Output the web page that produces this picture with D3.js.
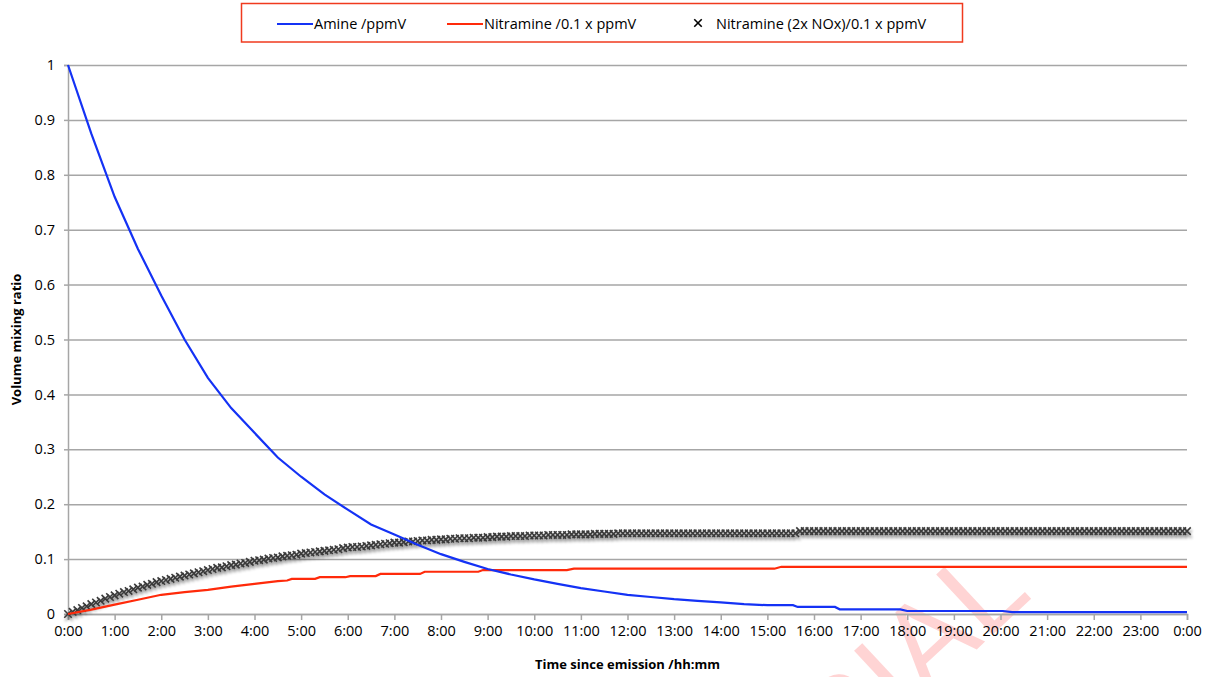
<!DOCTYPE html>
<html>
<head>
<meta charset="utf-8">
<script src="https://cdn.jsdelivr.net/npm/d3@7"></script>
<style>
  html, body { margin: 0; padding: 0; background: #ffffff; }
  svg { display: block; font-family: "Open Sans", "Liberation Sans", sans-serif; }
</style>
</head>
<body>
<svg id="chart" width="1210" height="677"></svg>
<script>
// ---------------- data ----------------
const seriesNames = ["Amine /ppmV", "Nitramine /0.1 x ppmV", "Nitramine (2x NOx)/0.1 x ppmV"];

// Amine /ppmV  (time in hours since emission)
const amineTime  = [0, 0.5, 1, 1.5, 2, 2.5, 3, 3.5, 4, 4.5, 5, 5.5, 6, 6.5, 7, 7.5, 8, 8.5, 9, 9.5,
                    10, 10.5, 11, 11.5, 12, 12.5, 13, 13.5, 14, 14.5, 15, 15.55, 15.65, 16.45, 16.55,
                    17.85, 18.0, 20.05, 20.25, 24];
const amineValue = [1.000, 0.875, 0.760, 0.665, 0.580, 0.500, 0.430, 0.375, 0.330, 0.285, 0.250, 0.218,
                    0.190, 0.163, 0.145, 0.126, 0.109, 0.095, 0.082, 0.072, 0.063, 0.055, 0.047, 0.041,
                    0.035, 0.031, 0.027, 0.024, 0.021, 0.018, 0.016, 0.016, 0.0128, 0.0128, 0.0085,
                    0.0085, 0.0055, 0.0055, 0.0035, 0.0035];

// Nitramine /0.1 x ppmV
const nitrTime  = [0, 0.5, 1, 1.5, 2, 2.5, 3, 3.5, 4, 4.5, 4.7, 4.8, 5.3, 5.4, 5.95, 6.05, 6.6, 6.7,
                   7.55, 7.65, 8.8, 8.9, 10.7, 10.85, 15.15, 15.3, 24];
const nitrValue = [0, 0.008, 0.017, 0.026, 0.035, 0.040, 0.044, 0.050, 0.055, 0.060, 0.061, 0.064, 0.064,
                   0.067, 0.067, 0.069, 0.069, 0.073, 0.073, 0.077, 0.077, 0.080, 0.080, 0.0825, 0.0825,
                   0.086, 0.086];

// Nitramine (2x NOx)/0.1 x ppmV  - one marker every 6 minutes (0:00 .. 24:00)
const nox2Step = 0.1; // hours between markers
const nox2Value = [
  0.000, 0.004, 0.007, 0.011, 0.014, 0.018, 0.021, 0.024, 0.028, 0.031,
  0.034, 0.037, 0.040, 0.042, 0.045, 0.048, 0.050, 0.053, 0.055, 0.058,
  0.060, 0.062, 0.064, 0.066, 0.068, 0.070, 0.072, 0.074, 0.076, 0.078,
  0.080, 0.082, 0.084, 0.085, 0.087, 0.089, 0.090, 0.092, 0.093, 0.095,
  0.097, 0.098, 0.099, 0.101, 0.102, 0.103, 0.105, 0.106, 0.107, 0.108,
  0.110, 0.111, 0.112, 0.113, 0.114, 0.115, 0.116, 0.117, 0.118, 0.120,
  0.121, 0.122, 0.122, 0.123, 0.124, 0.125, 0.126, 0.127, 0.128, 0.129,
  0.130, 0.130, 0.131, 0.132, 0.132, 0.133, 0.134, 0.134, 0.135, 0.135,
  0.136, 0.136, 0.137, 0.137, 0.138, 0.138, 0.138, 0.139, 0.139, 0.139,
  0.140, 0.140, 0.141, 0.141, 0.141, 0.142, 0.142, 0.142, 0.142, 0.143,
  0.143, 0.143, 0.143, 0.144, 0.144, 0.144, 0.144, 0.144, 0.145, 0.145,
  0.145, 0.145, 0.145, 0.146, 0.146, 0.146, 0.146, 0.146, 0.147, 0.147,
  0.147, 0.147, 0.147, 0.147, 0.147, 0.147, 0.147, 0.147, 0.147, 0.147,
  0.147, 0.147, 0.147, 0.147, 0.147, 0.147, 0.147, 0.147, 0.147, 0.147,
  0.147, 0.147, 0.147, 0.147, 0.147, 0.147, 0.147, 0.147, 0.147, 0.147,
  0.147, 0.147, 0.147, 0.147, 0.147, 0.147, 0.147, 0.151, 0.151, 0.151,
  0.151, 0.151, 0.151, 0.151, 0.151, 0.151, 0.151, 0.151, 0.151, 0.151,
  0.151, 0.151, 0.151, 0.151, 0.151, 0.151, 0.151, 0.151, 0.151, 0.151,
  0.151, 0.151, 0.151, 0.151, 0.151, 0.151, 0.151, 0.151, 0.151, 0.151,
  0.151, 0.151, 0.151, 0.151, 0.151, 0.151, 0.151, 0.151, 0.151, 0.151,
  0.151, 0.151, 0.151, 0.151, 0.151, 0.151, 0.151, 0.151, 0.151, 0.151,
  0.151, 0.151, 0.151, 0.151, 0.151, 0.151, 0.151, 0.151, 0.151, 0.151,
  0.151, 0.151, 0.151, 0.151, 0.151, 0.151, 0.151, 0.151, 0.151, 0.151,
  0.151, 0.151, 0.151, 0.151, 0.151, 0.151, 0.151, 0.151, 0.151, 0.151,
  0.151
];

const xTickValues = [0,1,2,3,4,5,6,7,8,9,10,11,12,13,14,15,16,17,18,19,20,21,22,23,24];
const xTickLabels = ["0:00","1:00","2:00","3:00","4:00","5:00","6:00","7:00","8:00","9:00","10:00","11:00",
                     "12:00","13:00","14:00","15:00","16:00","17:00","18:00","19:00","20:00","21:00",
                     "22:00","23:00","0:00"];
const yTickValues = [0,0.1,0.2,0.3,0.4,0.5,0.6,0.7,0.8,0.9,1];
const yTickLabels = ["0","0.1","0.2","0.3","0.4","0.5","0.6","0.7","0.8","0.9","1"];

const xTitle = "Time since emission /hh:mm";
const yTitle = "Volume mixing ratio";
const watermark = "TRIAL";

// ---------------- drawing ----------------
const svg = d3.select("#chart");
const plot = { left: 68, right: 1187, top: 65, bottom: 614 };

const x = d3.scaleLinear().domain([0, 24]).range([plot.left, plot.right]);
const y = d3.scaleLinear().domain([0, 1]).range([plot.bottom, plot.top]);

const defs = svg.append("defs");
const f = defs.append("filter").attr("id", "shadow")
  .attr("x", "-50%").attr("y", "-50%").attr("width", "200%").attr("height", "200%");
f.append("feGaussianBlur").attr("in", "SourceAlpha").attr("stdDeviation", 1.6).attr("result", "blur");
f.append("feOffset").attr("in", "blur").attr("dx", 1).attr("dy", 2.5).attr("result", "off");
f.append("feComponentTransfer").attr("in", "off").attr("result", "soft")
  .append("feFuncA").attr("type", "linear").attr("slope", 0.45);
const fm = f.append("feMerge");
fm.append("feMergeNode").attr("in", "soft");
fm.append("feMergeNode").attr("in", "SourceGraphic");

const gridColor = "#a6a6a6";

// watermark (drawn first, behind everything)
svg.append("text").attr("transform", "translate(1034,596) rotate(-43)")
  .attr("text-anchor", "end").attr("font-size", 120)
  .attr("font-family", "Liberation Sans, sans-serif")
  .attr("fill", "rgba(255,60,60,0.22)").text(watermark);

// gridlines + y axis
const yAxis = d3.axisLeft(y).tickValues(yTickValues)
  .tickFormat((d, i) => yTickLabels[i]).tickSize(4).tickPadding(9);
const gy = svg.append("g").attr("transform", `translate(${plot.left},0)`).call(yAxis);
gy.select(".domain").attr("stroke", gridColor).attr("stroke-width", 1.5);
gy.selectAll(".tick line").attr("stroke", gridColor).attr("stroke-width", 1.5);
gy.selectAll(".tick text").attr("font-size", 14.5).attr("fill", "#000")
  .attr("font-family", "Open Sans, sans-serif");
gy.selectAll(".tick").append("line")
  .attr("x1", 0).attr("x2", plot.right - plot.left)
  .attr("stroke", gridColor).attr("stroke-width", 1.5);

// x axis
const xAxis = d3.axisBottom(x).tickValues(xTickValues)
  .tickFormat((d, i) => xTickLabels[i]).tickSize(6).tickPadding(6);
const gx = svg.append("g").attr("transform", `translate(0,${plot.bottom})`).call(xAxis);
gx.select(".domain").attr("stroke", gridColor).attr("stroke-width", 1.5);
gx.selectAll(".tick line").attr("stroke", gridColor).attr("stroke-width", 1.5);
gx.selectAll(".tick text").attr("font-size", 14.5).attr("fill", "#000")
  .attr("font-family", "Open Sans, sans-serif");

// axis titles
svg.append("text").attr("x", (plot.left + plot.right) / 2).attr("y", 669)
  .attr("text-anchor", "middle").attr("font-size", 13).attr("font-weight", "bold")
  .attr("font-family", "Open Sans, sans-serif").text(xTitle);
svg.append("text").attr("transform", `translate(21,${(plot.top + plot.bottom) / 2}) rotate(-90)`)
  .attr("text-anchor", "middle").attr("font-size", 13).attr("font-weight", "bold")
  .attr("font-family", "Open Sans, sans-serif").text(yTitle);

// series
const blue = "#1432f5", red = "#ff2a0a";
const line = d3.line().x(d => x(d[0])).y(d => y(d[1]));

const noxData = nox2Value.map((v, i) => [i * nox2Step, v]);
const sym = d3.symbol().type(d3.symbolTimes).size(38);
svg.append("g").attr("filter", "url(#shadow)")
  .selectAll("path").data(noxData).join("path")
  .attr("transform", d => `translate(${x(d[0])},${y(d[1])})`)
  .attr("d", sym)
  .attr("fill", "none").attr("stroke", "#3a3a3a").attr("stroke-width", 1.6);

svg.append("path").datum(nitrTime.map((t, i) => [t, nitrValue[i]]))
  .attr("d", line).attr("fill", "none").attr("stroke", red).attr("stroke-width", 2.2);
svg.append("path").datum(amineTime.map((t, i) => [t, amineValue[i]]))
  .attr("d", line).attr("fill", "none").attr("stroke", blue).attr("stroke-width", 2.2);

// legend
const lg = svg.append("g");
lg.append("rect").attr("x", 241.5).attr("y", 3.5).attr("width", 721).attr("height", 38.5)
  .attr("fill", "#fff").attr("stroke", "#f03a1e").attr("stroke-width", 1.5);
const legY = 24;
lg.append("line").attr("x1", 277).attr("x2", 313).attr("y1", legY).attr("y2", legY)
  .attr("stroke", blue).attr("stroke-width", 2.2);
lg.append("text").attr("x", 314).attr("y", legY + 5).attr("font-size", 14.5).text(seriesNames[0]);
lg.append("line").attr("x1", 447).attr("x2", 483).attr("y1", legY).attr("y2", legY)
  .attr("stroke", red).attr("stroke-width", 2.2);
lg.append("text").attr("x", 484).attr("y", legY + 5).attr("font-size", 14.5).text(seriesNames[1]);
lg.append("path").attr("transform", `translate(698,${legY - 1})`).attr("d", sym)
  .attr("fill", "none").attr("stroke", "#000").attr("stroke-width", 1.6);
lg.append("text").attr("x", 716).attr("y", legY + 5).attr("font-size", 14.5).text(seriesNames[2]);
</script>
</body>
</html>
